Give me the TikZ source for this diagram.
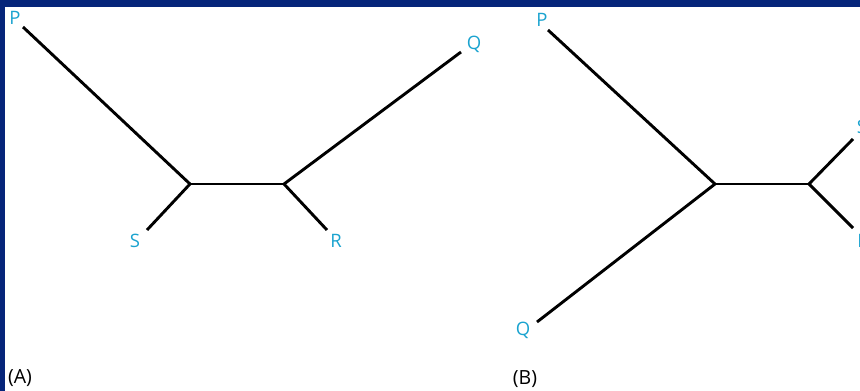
\documentclass[tikz,border=0pt]{standalone}
\usepackage{fontspec}
\setmainfont{Open Sans}
\definecolor{frameblue}{HTML}{06257A}
\definecolor{leafcyan}{HTML}{1AA3CF}
\tikzset{branch/.style={line width=2.9pt},
  leaf/.style={text=leafcyan, inner sep=0pt, font=\fontsize{18.5}{22}\selectfont},
  panel/.style={inner sep=0pt, font=\fontsize{19.5}{23}\selectfont}}

\begin{document}
\begin{tikzpicture}[x=1pt,y=-1pt]
\useasboundingbox (0,0) rectangle (860,391);
\clip (0,0) rectangle (860,391);
\fill[frameblue] (0,0) rectangle (860,7);
\fill[frameblue] (0,0) rectangle (5,391);
% tree (A)
\coordinate (a1) at (190,184);
\coordinate (a2) at (284,184);
\coordinate (aP) at (23,27);
\coordinate (aS) at (147,230);
\coordinate (aQ) at (461,52);
\coordinate (aR) at (327,230);
\node[leaf] (laP) at (15,18)  {P};
\node[leaf] (laS) at (135,241) {S};
\node[leaf] (laR) at (336,241) {R};
\node[leaf] (laQ) at (474,44) {Q};
\foreach \i/\j in {aP/a1,aS/a1,a1/a2,a2/aQ,a2/aR}
  \draw[branch] (\i) -- (\j);
% tree (B)
\coordinate (b1) at (715,184);
\coordinate (b2) at (809,184);
\coordinate (bP) at (548,30);
\coordinate (bQ) at (537,322);
\coordinate (bS) at (853,139);
\coordinate (bR) at (853,228);
\node[leaf] (lbP) at (542,20)  {P};
\node[leaf] (lbQ) at (523,330) {Q};
\node[leaf] (lbS) at (862,127) {S};
\node[leaf] (lbR) at (863,241) {R};
\foreach \i/\j in {bP/b1,bQ/b1,b1/b2,b2/bS,b2/bR}
  \draw[branch] (\i) -- (\j);
\node[panel] (pa) at (20,378) {(A)};
\node[panel] (pb) at (525,379) {(B)};
\end{tikzpicture}
\end{document}
